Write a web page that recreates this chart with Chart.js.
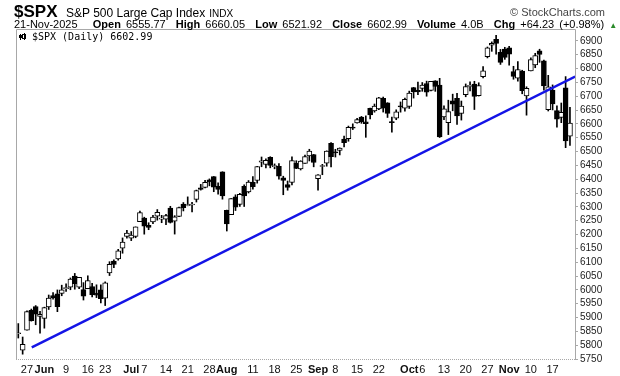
<!DOCTYPE html>
<html>
<head>
<meta charset="utf-8">
<script src="https://cdn.jsdelivr.net/npm/chart.js@4.4.1/dist/chart.umd.min.js"></script>
<style>
  body { margin: 0; background: #fff; }
  #wrap { position: relative; width: 620px; height: 376px; font-family: "Liberation Sans", Arial, sans-serif; color: #000; }
  #chart { position: absolute; left: 0; top: 0; }
  .hd { position: absolute; white-space: nowrap; }
  #sym { left: 14px; top: 2px; font-size: 17px; font-weight: bold; }
  #name { left: 66px; top: 6px; font-size: 12px; }
  #name span { font-size: 10px; margin-left: 4px; }
  #brand { right: 15px; top: 6px; font-size: 11px; color: #444; }
  #quote { left: 14px; top: 18px; font-size: 11px; word-spacing: 2px; }
  #quote b { font-weight: bold; }
  #quote .up { font-size: 8px; color: #2a8a2a; }
</style>
</head>
<body>
<div id="wrap">
  <canvas id="chart" width="620" height="376"></canvas>
  <div class="hd" id="sym">$SPX</div>
  <div class="hd" id="name">S&amp;P 500 Large Cap Index<span>INDX</span></div>
  <div class="hd" id="brand">© StockCharts.com</div>
  <div class="hd" id="quote">21-Nov-2025 &nbsp;&nbsp;<b>Open</b> 6555.77 &nbsp;<b>High</b> 6660.05 &nbsp;<b>Low</b> 6521.92 &nbsp;<b>Close</b> 6602.99 &nbsp;<b>Volume</b> 4.0B &nbsp;<b>Chg</b> +64.23 (+0.98%) <span class="up">▲</span></div>
</div>
<script>
// daily candles, 22-May-2025 .. 21-Nov-2025
const days = ['May22','May23','May27','May28','May29','May30',
  'Jun2','Jun3','Jun4','Jun5','Jun6','Jun9','Jun10','Jun11','Jun12','Jun13','Jun16','Jun17','Jun18','Jun20','Jun23','Jun24','Jun25','Jun26','Jun27','Jun30',
  'Jul1','Jul2','Jul3','Jul7','Jul8','Jul9','Jul10','Jul11','Jul14','Jul15','Jul16','Jul17','Jul18','Jul21','Jul22','Jul23','Jul24','Jul25','Jul28','Jul29','Jul30','Jul31',
  'Aug1','Aug4','Aug5','Aug6','Aug7','Aug8','Aug11','Aug12','Aug13','Aug14','Aug15','Aug18','Aug19','Aug20','Aug21','Aug22','Aug25','Aug26','Aug27','Aug28','Aug29',
  'Sep2','Sep3','Sep4','Sep5','Sep8','Sep9','Sep10','Sep11','Sep12','Sep15','Sep16','Sep17','Sep18','Sep19','Sep22','Sep23','Sep24','Sep25','Sep26','Sep29','Sep30',
  'Oct1','Oct2','Oct3','Oct6','Oct7','Oct8','Oct9','Oct10','Oct13','Oct14','Oct15','Oct16','Oct17','Oct20','Oct21','Oct22','Oct23','Oct24','Oct27','Oct28','Oct29','Oct30','Oct31',
  'Nov3','Nov4','Nov5','Nov6','Nov7','Nov10','Nov11','Nov12','Nov13','Nov14','Nov17','Nov18','Nov19','Nov20','Nov21'];

const open = [5841.26,5781.89,5854.07,5925.59,5939.92,5903.67,
  5896.68,5938.56,5978.94,5985.67,5987.06,6004.60,6009.91,6049.38,6009.90,6000.56,6004.00,6012.15,5987.93,5999.67,5969.67,6061.21,6104.26,6112.10,6150.70,6193.36,
  6187.25,6193.45,6246.46,6259.04,6233.06,6245.99,6266.41,6255.68,6255.15,6295.29,6248.18,6265.10,6310.00,6304.74,6306.60,6326.90,6368.60,6370.01,6397.69,6409.37,6374.33,6427.02,
  6287.28,6271.71,6336.01,6309.24,6374.34,6354.04,6389.67,6395.17,6461.47,6453.18,6478.86,6445.02,6446.56,6405.14,6380.41,6388.03,6457.67,6437.58,6457.08,6483.74,6489.34,
  6401.51,6445.82,6458.19,6529.91,6498.09,6503.76,6545.36,6546.51,6588.18,6603.44,6624.21,6607.63,6656.04,6646.98,6654.19,6692.00,6676.21,6605.07,6620.73,6661.62,6657.06,
  6663.02,6731.31,6722.17,6728.40,6746.08,6721.03,6755.28,6740.59,6625.27,6604.27,6682.93,6692.67,6637.61,6705.59,6735.35,6744.07,6701.55,6771.01,6842.68,6884.99,6905.90,6858.63,6870.73,
  6874.55,6789.05,6765.39,6791.05,6700.98,6791.68,6813.20,6864.28,6828.36,6651.29,6722.44,6647.89,6623.33,6730.00,6555.77];

const high = [5878.08,5829.51,5924.33,5930.61,5943.13,5922.14,
  5937.40,5981.35,5990.48,5999.70,6016.87,6021.31,6043.01,6059.40,6045.43,6026.16,6050.83,6023.25,6018.25,6018.20,6028.81,6101.80,6108.51,6146.52,6187.68,6215.08,
  6210.78,6227.60,6284.65,6262.62,6242.66,6269.38,6290.22,6269.44,6273.31,6302.04,6268.18,6299.28,6315.61,6336.08,6316.12,6360.64,6381.31,6395.82,6401.07,6409.82,6386.70,6427.02,
  6288.35,6330.11,6343.60,6349.27,6379.71,6395.16,6409.26,6446.34,6480.28,6473.75,6481.34,6455.35,6456.46,6410.79,6393.48,6481.13,6466.89,6466.91,6487.00,6508.23,6489.63,
  6416.54,6453.67,6502.54,6532.65,6508.15,6513.22,6555.97,6592.07,6600.21,6619.62,6626.99,6628.94,6656.80,6671.82,6695.76,6697.00,6676.63,6624.26,6650.92,6679.27,6693.46,
  6718.48,6731.94,6750.87,6749.52,6754.49,6753.72,6756.08,6764.70,6664.93,6685.65,6707.47,6710.15,6682.59,6744.35,6752.00,6754.00,6748.67,6807.26,6877.91,6896.45,6920.34,6869.19,6876.91,
  6880.29,6808.24,6825.38,6793.93,6734.19,6838.61,6855.16,6869.91,6830.48,6775.50,6740.87,6665.05,6675.44,6770.93,6660.05];

const low = [5825.82,5767.41,5854.07,5886.91,5873.80,5843.66,
  5861.43,5929.00,5966.11,5921.20,5978.63,5994.18,6000.26,6002.32,6003.88,5963.21,6004.00,5974.80,5971.89,5952.56,5943.23,6051.70,6080.10,6107.28,6132.35,6186.92,
  6177.97,6188.29,6246.46,6201.29,6217.42,6239.43,6251.86,6242.70,6235.92,6241.54,6201.59,6264.93,6285.27,6303.79,6281.71,6317.49,6360.57,6368.53,6375.96,6354.77,6346.07,6327.76,
  6212.69,6271.71,6286.71,6301.48,6301.33,6350.10,6364.06,6385.76,6445.02,6441.07,6441.15,6437.56,6400.22,6343.85,6360.14,6379.42,6438.06,6433.26,6457.08,6466.03,6444.74,
  6360.58,6416.17,6446.96,6443.98,6480.08,6487.70,6516.92,6537.20,6579.43,6602.44,6601.99,6551.43,6617.91,6642.27,6651.78,6642.70,6623.15,6570.43,6615.06,6642.36,6645.74,
  6655.69,6693.23,6705.67,6717.78,6699.96,6719.49,6717.58,6550.78,6615.02,6561.23,6647.35,6598.48,6613.72,6697.99,6718.95,6651.89,6700.54,6766.07,6838.41,6862.26,6852.39,6814.92,6833.26,
  6811.95,6761.32,6754.27,6708.79,6631.50,6791.68,6803.00,6822.49,6721.74,6646.56,6650.47,6588.53,6604.40,6514.04,6521.92];

const close = [5842.01,5802.82,5921.54,5888.55,5912.17,5911.69,
  5935.94,5970.37,5970.81,5939.30,6000.36,6005.88,6038.81,6022.24,6045.26,5976.97,6033.11,5982.72,5980.87,5967.84,6025.17,6092.18,6092.16,6141.02,6173.07,6204.95,
  6198.01,6227.42,6279.35,6229.98,6225.52,6263.26,6280.46,6259.75,6268.56,6243.76,6263.70,6297.36,6296.79,6305.60,6309.62,6358.91,6363.35,6388.64,6389.77,6370.86,6362.90,6339.39,
  6238.01,6329.94,6299.19,6345.06,6340.00,6389.45,6373.45,6445.76,6466.58,6468.54,6449.80,6449.15,6411.37,6395.78,6370.17,6466.91,6439.32,6465.94,6481.40,6501.86,6460.26,
  6415.54,6448.26,6502.08,6481.50,6495.15,6512.61,6532.04,6587.47,6584.29,6615.28,6606.76,6600.35,6631.96,6664.36,6693.75,6656.92,6637.97,6604.72,6643.70,6661.21,6688.46,
  6711.20,6715.35,6715.79,6740.28,6714.59,6753.72,6735.11,6552.51,6654.72,6644.31,6671.06,6629.07,6664.01,6735.13,6735.35,6699.40,6738.44,6791.69,6875.16,6890.89,6890.59,6822.34,6840.20,
  6851.97,6771.55,6796.29,6720.32,6728.80,6832.43,6846.61,6850.92,6737.49,6734.11,6672.41,6617.32,6642.16,6538.76,6602.99];

// trend line, drawn by hand on the original (day index, price)
const trendX = [3.1, 128.2];
const trendY = [5792, 6771];

// date axis labels (day index -> text), month names bold
const xTickPos = [2, 6, 11, 16, 20, 26, 29, 34, 39, 44, 48, 54, 59, 64, 69, 73, 78, 83, 90, 93, 98, 103, 108, 113, 118, 123];
const xTickText = ['27','Jun','9','16','23','Jul','7','14','21','28','Aug','11','18','25','Sep','8','15','22','Oct','6','13','20','27','Nov','10','17'];
const months = ['Jun', 'Jul', 'Aug', 'Sep', 'Oct', 'Nov'];

const yTicks = [];
for (let v = 5750; v <= 6900; v += 50) yTicks.push(v);

const FONT = '"Liberation Sans", Arial, sans-serif';

const frame = {
  id: 'frame',
  afterDraw(chart) {
    const { ctx, chartArea: a } = chart;
    ctx.save();
    ctx.strokeStyle = '#a8a8a8';
    ctx.lineWidth = 1;
    ctx.beginPath();
    ctx.moveTo(a.left + 0.5, a.bottom);
    ctx.lineTo(a.left + 0.5, a.top + 0.5);
    ctx.lineTo(a.right + 0.5, a.top + 0.5);
    ctx.lineTo(a.right + 0.5, a.bottom);
    ctx.stroke();
    ctx.setLineDash([1, 1]);
    ctx.beginPath();
    ctx.moveTo(a.left, a.bottom + 0.5);
    ctx.lineTo(a.right, a.bottom + 0.5);
    ctx.stroke();
    ctx.setLineDash([]);

    // legend inside the plot
    const x = a.left + 3, y = a.top + 3;
    ctx.fillStyle = '#000';
    ctx.fillRect(x + 1, y + 2, 1, 6);
    ctx.fillRect(x, y + 3, 3, 3);
    ctx.fillRect(x + 5, y + 1, 1, 7);
    ctx.strokeStyle = '#000';
    ctx.strokeRect(x + 3.5, y + 2.5, 3, 4);
    ctx.font = '10px "DejaVu Sans Mono", monospace';
    ctx.textBaseline = 'top';
    ctx.fillText('$SPX (Daily) 6602.99', x + 13, y);
    ctx.restore();
  }
};

new Chart(document.getElementById('chart'), {
  data: {
    datasets: [
      {
        type: 'line',
        data: trendX.map((x, i) => ({ x: x, y: trendY[i] })),
        borderColor: '#1414e6',
        borderWidth: 2.5,
        pointRadius: 0,
        order: 0
      },
      {
        type: 'bar',
        data: close.map((c, i) => ({ x: i, y: [open[i], c] })),
        backgroundColor: close.map((c, i) => c >= open[i] ? '#ffffff' : '#000000'),
        borderColor: '#000',
        borderWidth: 1,
        borderSkipped: false,
        barThickness: 5,
        minBarLength: 1,
        grouped: false,
        order: 1
      },
      {
        type: 'bar',
        data: close.map((c, i) => ({ x: i, y: [low[i], high[i]] })),
        backgroundColor: '#000',
        borderWidth: 0,
        barThickness: 1,
        grouped: false,
        order: 2
      }
    ]
  },
  options: {
    responsive: false,
    animation: false,
    layout: { padding: { left: 16, top: 29, right: 0, bottom: 0 } },
    plugins: { legend: { display: false }, tooltip: { enabled: false } },
    scales: {
      x: {
        type: 'linear',
        min: -0.53,
        max: 128.16,
        offset: false,
        grid: { display: false, drawTicks: false },
        border: { display: false },
        afterBuildTicks(scale) { scale.ticks = xTickPos.map(v => ({ value: v })); },
        afterFit(scale) { scale.height = 17; },
        ticks: {
          autoSkip: false,
          maxRotation: 0,
          padding: 4,
          color: '#111',
          callback: (v, i) => xTickText[i],
          font: (c) => ({ family: FONT, size: 11, weight: months.includes(xTickText[c.index]) ? 'bold' : 'normal' })
        }
      },
      y: {
        position: 'right',
        min: 5750,
        max: 6943,
        grid: { drawOnChartArea: false, drawTicks: true, tickLength: 3, color: '#a8a8a8' },
        border: { display: false },
        afterBuildTicks(scale) { scale.ticks = yTicks.map(v => ({ value: v })); },
        afterFit(scale) { scale.width = 45; },
        ticks: {
          autoSkip: false,
          padding: 2,
          color: '#222',
          callback: (v) => String(v),
          font: { family: FONT, size: 10 }
        }
      }
    }
  },
  plugins: [frame]
});
</script>
</body>
</html>
